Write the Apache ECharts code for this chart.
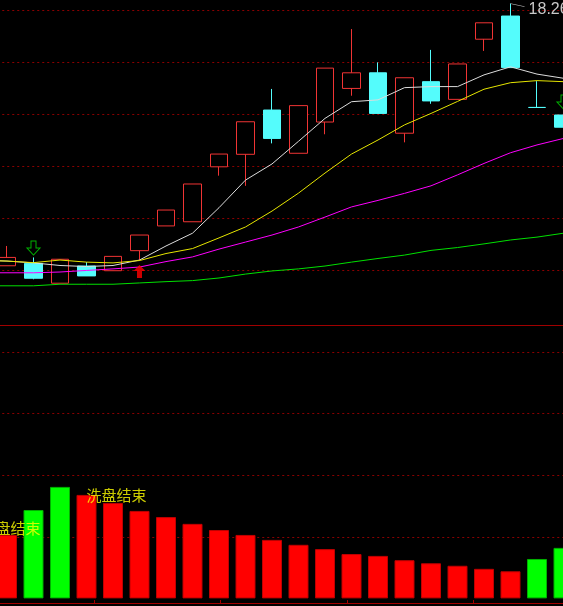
<!DOCTYPE html>
<html><head><meta charset="utf-8">
<script src="https://cdn.jsdelivr.net/npm/echarts@6.0.0/dist/echarts.min.js"></script>
<style>html,body{margin:0;padding:0;background:#000;overflow:hidden;width:563px;height:606px;}
#c{position:absolute;left:-33px;top:0;width:610px;height:606px;}</style>
</head><body><div id="c"></div>
<script>
// categories (K0 is just off the left edge)
const days = ['K0','K1','K2','K3','K4','K5','K6','K7','K8','K9','K10','K11','K12','K13','K14','K15','K16','K17','K18','K19','K20','K21','K22'];
// candles
const opens  = [null, 8.19, 8.28, 7.52, 8.18, 8.00, 8.77, 9.72, 9.88, 11.99, 12.47, 14.17, 12.51, 13.71, 15.00, 15.60, 13.28, 15.26, 14.58, 16.89, 17.78, 14.27, 13.98];
const closes = [null, 8.51, 7.71, 8.44, 7.80, 8.55, 9.37, 10.33, 11.33, 12.48, 13.72, 13.08, 14.34, 15.78, 15.60, 14.04, 15.41, 14.52, 15.94, 17.52, 15.80, 14.27, 13.51];
const lows   = [null, 8.19, 7.67, 7.52, 7.80, 8.00, 8.38, 9.72, 9.88, 11.65, 11.26, 12.89, 12.51, 13.24, 14.72, 14.04, 12.93, 14.41, 14.58, 16.44, 15.80, 14.27, 13.51];
const highs  = [null, 8.95, 8.51, 8.44, 8.33, 8.55, 9.37, 10.33, 11.33, 12.48, 13.72, 14.98, 14.34, 15.78, 17.28, 16.00, 15.41, 16.48, 15.94, 17.52, 18.26, 15.28, 13.98];
// moving averages
const ma5  = [8.41, 8.37, 8.30, 8.20, 8.16, 8.20, 8.41, 8.95, 9.44, 10.42, 11.48, 12.10, 12.97, 13.85, 14.49, 14.56, 15.03, 15.07, 15.07, 15.52, 15.83, 15.55, 15.39];
const ma10 = [8.39, 8.37, 8.31, 8.41, 8.33, 8.30, 8.39, 8.66, 8.85, 9.26, 9.68, 10.29, 10.98, 11.75, 12.48, 13.02, 13.60, 14.04, 14.50, 14.97, 15.22, 15.30, 15.26];
const ma20 = [7.92, 7.92, 7.92, 7.95, 8.01, 8.07, 8.14, 8.35, 8.53, 8.83, 9.10, 9.37, 9.68, 10.06, 10.45, 10.70, 10.97, 11.26, 11.68, 12.12, 12.53, 12.83, 13.08];
const ma60 = [7.42, 7.42, 7.42, 7.48, 7.48, 7.48, 7.53, 7.58, 7.62, 7.72, 7.87, 7.99, 8.07, 8.18, 8.33, 8.47, 8.60, 8.78, 8.89, 9.03, 9.18, 9.29, 9.44];
// signal arrows (value = arrow tip)
const downArrowIdx = [2, 22];
const downArrowTip = [8.60, 14.21];
const upArrowIdx = [6];
const upArrowTip = [8.22];
// indicator panel
const barVals  = [null, 1.03, 1.435, 1.81, 1.68, 1.55, 1.42, 1.32, 1.21, 1.11, 1.03, 0.95, 0.87, 0.80, 0.72, 0.69, 0.62, 0.57, 0.53, 0.48, 0.44, 0.64, 0.82];
const barGreen = [0, 0, 1, 1, 0, 0, 0, 0, 0, 0, 0, 0, 0, 0, 0, 0, 0, 0, 0, 0, 0, 1, 1];
const textIdx = [0, 4];
const textVal = [1.135, 1.67];
const textStr = '洗盘结束';
// grid levels
const priceLevels = [8, 10, 12, 14, 16, 18];
const indLevels = [1, 2, 3, 4];

const RED = '#f03434', CYAN = '#54fcfc', GRIDC = '#8b0000', AXC = '#a00000';
const GL = 0.25, GR = 0.25;

const candleData = days.map((d, i) => opens[i] == null ? '-' : [opens[i], closes[i], lows[i], highs[i]]);
const barData = days.map((d, i) => barVals[i] == null ? '-' : {
  value: barVals[i],
  itemStyle: barGreen[i] ? {color: '#00ff00', borderColor: '#00b000', borderWidth: 1}
                         : {color: '#ff0000', borderColor: '#c00000', borderWidth: 1}
});
function maSeries(data, color) {
  return {type: 'line', xAxisIndex: 0, yAxisIndex: 0, data: data, symbol: 'none', smooth: false,
    lineStyle: {color: color, width: 1}, silent: true, z: 3};
}
function levelSeries(x, y, vals) {
  return {type: 'line', xAxisIndex: x, yAxisIndex: y, data: days.map(() => null), silent: true, z: 1,
    markLine: {silent: true, z: 1, symbol: ['none', 'none'], label: {show: false},
      lineStyle: {color: GRIDC, type: [2, 3], width: 1},
      data: vals.map(v => ({yAxis: v}))}};
}

const chart = echarts.init(document.getElementById('c'), null, {renderer: 'canvas'});
chart.setOption({
  backgroundColor: '#000',
  animation: false,
  grid: [
    {left: GL, right: GR, top: 0, height: 325},
    {left: GL, right: GR, top: 325, bottom: 3}
  ],
  xAxis: [
    {type: 'category', gridIndex: 0, data: days, boundaryGap: true,
      axisLine: {show: true, onZero: false, lineStyle: {color: AXC, width: 1}},
      axisTick: {show: false}, axisLabel: {show: false}, splitLine: {show: false}},
    {type: 'category', gridIndex: 1, data: days, boundaryGap: true,
      axisLine: {show: true, onZero: false, lineStyle: {color: AXC, width: 1}},
      axisTick: {show: false}, axisLabel: {show: false}, splitLine: {show: false}},
    {type: 'value', gridIndex: 1, min: -1, max: 3.818, interval: 1, position: 'bottom',
      axisLine: {show: false, onZero: false},
      axisTick: {show: true, inside: true, length: 3, lineStyle: {color: AXC}},
      axisLabel: {show: false}, splitLine: {show: false}}
  ],
  yAxis: [
    {type: 'value', gridIndex: 0, min: 5.915, max: 18.396, show: false, splitLine: {show: false}},
    {type: 'value', gridIndex: 1, min: -0.0747, max: 4.4383, show: false, splitLine: {show: false}}
  ],
  series: [
    levelSeries(0, 0, priceLevels),
    levelSeries(1, 1, indLevels),
    {type: 'candlestick', xAxisIndex: 0, yAxisIndex: 0, data: candleData, barWidth: 18, z: 2,
      itemStyle: {color: '#000', color0: CYAN, borderColor: RED, borderColor0: CYAN, borderWidth: 1,
                  borderColorDoji: CYAN},
      markPoint: {
        symbol: 'path://M0,0 L14,3', symbolSize: [14, 3], symbolKeepAspect: false,
        symbolOffset: ['50%', '50%'],
        itemStyle: {color: 'transparent', borderColor: '#c0c0c0', borderWidth: 1},
        label: {show: true, position: 'right', distance: 3, offset: [0, 5], color: '#c8c8c8',
                fontSize: 16, fontFamily: 'Liberation Sans',
                formatter: p => Number(p.value).toFixed(2)},
        data: [{type: 'max', valueDim: 'highest'}]
      }},
    maSeries(ma5, '#dcdcdc'),
    maSeries(ma10, '#e6e600'),
    maSeries(ma20, '#ff00ff'),
    maSeries(ma60, '#00e000'),
    {type: 'scatter', xAxisIndex: 0, yAxisIndex: 0, z: 5, silent: true,
      data: downArrowIdx.map((i, k) => [i, downArrowTip[k]]),
      symbol: 'path://M4,0 L9,0 L9,7 L13,7 L6.5,14 L0,7 L4,7 Z', symbolSize: [13, 14],
      symbolOffset: [0, '-50%'],
      itemStyle: {color: 'transparent', borderColor: '#00e000', borderWidth: 1}},
    {type: 'scatter', xAxisIndex: 0, yAxisIndex: 0, z: 5, silent: true,
      data: upArrowIdx.map((i, k) => [i, upArrowTip[k]]),
      symbol: 'path://M6,0 L12,6 L8.5,6 L8.5,13 L3.5,13 L3.5,6 L0,6 Z', symbolSize: [12, 13],
      symbolOffset: [0, '50%'],
      itemStyle: {color: '#ff0000'}},
    {type: 'bar', xAxisIndex: 1, yAxisIndex: 1, data: barData, barWidth: 20, z: 2, silent: true},
    {type: 'scatter', xAxisIndex: 1, yAxisIndex: 1, z: 6, silent: true, clip: false,
      data: textIdx.map((i, k) => [i, textVal[k]]), symbolSize: 0,
      label: {show: true, position: 'right', distance: 0, formatter: textStr, color: '#ffff00',
              fontSize: 15, fontFamily: 'Noto Sans CJK SC'}}
  ]
});
</script></body></html>
